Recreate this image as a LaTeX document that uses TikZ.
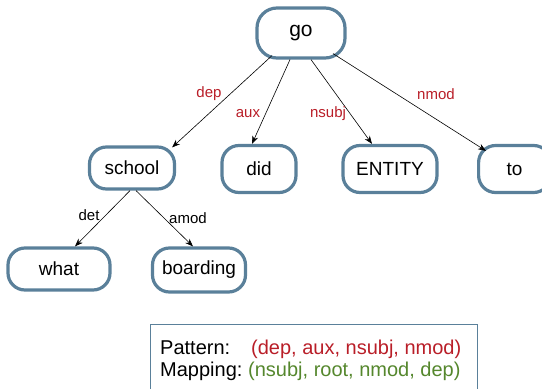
\documentclass[tikz,border=0pt]{standalone}
\usepackage{fontspec}
\setmainfont{Liberation Sans}
\usetikzlibrary{arrows.meta}
\definecolor{boxblue}{RGB}{90,128,154}
\definecolor{lblred}{RGB}{185,30,40}
\definecolor{lblgreen}{RGB}{85,135,45}
\tikzset{
  word/.style={draw=boxblue, line width=3.2pt, rounded corners=17pt, fill=white, inner sep=0pt, font=\fontsize{19}{21}\selectfont},
  dep/.style={-{Stealth[length=8pt,width=6pt]}, line width=0.6pt},
  rel/.style={font=\fontsize{15}{17}\selectfont, text=lblred},
  rel2/.style={font=\fontsize{15}{17}\selectfont, text=black},
  boxtext/.style={anchor=base west, font=\fontsize{20}{22}\selectfont, inner sep=0pt},
}
\begin{document}
\begin{tikzpicture}[x=1pt,y=-1pt]
\useasboundingbox (0,0) rectangle (542,389);
\node[word, minimum width=88pt, minimum height=50pt, rounded corners=20pt, font=\fontsize{21}{23}\selectfont] (go) at (301,33) {go};
\node[word, minimum width=85pt, minimum height=42pt] (school) at (132,168) {school};
\node[word, minimum width=74pt, minimum height=47pt] (did) at (259,169) {did};
\node[word, minimum width=94pt, minimum height=47pt] (entity) at (390,169) {ENTITY};
\node[word, minimum width=72pt, minimum height=47pt, anchor=west] (to) at (477,169) {to};
\node[word, minimum width=102pt, minimum height=42pt] (what) at (59,269) {what};
\node[word, minimum width=93pt, minimum height=44pt] (boarding) at (199,270) {boarding};

\draw[dep] ([shift={(-29,-4)}]go.south) -- ([shift={(-4,2)}]school.north east);
\draw[dep] ([xshift=-11pt]go.south) -- ([xshift=-7pt]did.north);
\draw[dep] ([xshift=10pt]go.south) -- ([xshift=-18pt]entity.north);
\draw[dep] ([shift={(32,-6)}]go.south) -- ([shift={(9,7)}]to.north west);
\draw[dep] ([xshift=-2pt]school.south) -- ([xshift=16pt]what.north);
\draw[dep] ([xshift=4pt]school.south) -- ([xshift=-6pt]boarding.north);

\node[rel] (ldep) at (209,94) {dep};
\node[rel] (laux) at (248,114) {aux};
\node[rel] (lnsubj) at (328,114) {nsubj};
\node[rel] (lnmod) at (436,94) {nmod};
\node[rel2] (ldet) at (89,215) {det};
\node[rel2] (lamod) at (188,218) {amod};

\node[draw=boxblue, line width=1.3pt, minimum width=327pt, minimum height=70pt, anchor=north west, inner sep=0pt] (box) at (150,324) {};
\node[boxtext] (p1) at (160,354) {Pattern:};
\node[boxtext, text=lblred] (p2) at (251,354) {(dep, aux, nsubj, nmod)};
\node[boxtext] (m1) at (160,376) {Mapping:};
\node[boxtext, text=lblgreen] (m2) at (248,376) {(nsubj, root, nmod, dep)};
\end{tikzpicture}
\end{document}
